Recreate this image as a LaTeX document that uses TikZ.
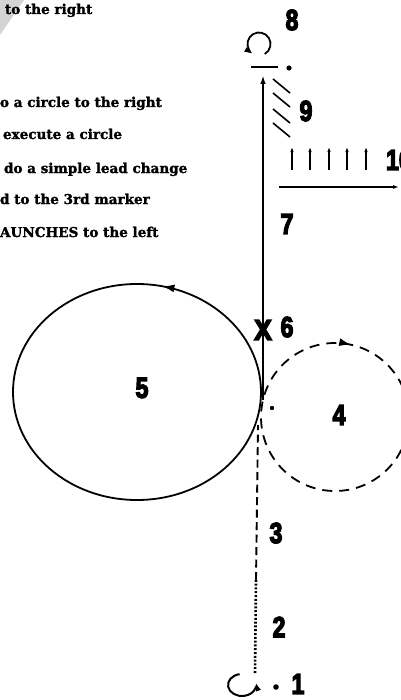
\documentclass[tikz,border=0pt]{standalone}
\usepackage{fontspec}
\setmainfont{DejaVu Serif}[UprightFont={* Bold},FakeBold=1.5]
\newfontfamily\numfont{Liberation Sans}[UprightFont={* Bold},FakeBold=5]
\usetikzlibrary{arrows.meta,decorations.markings}
\begin{document}
\begin{tikzpicture}[x=1bp,y=-1bp,
  every node/.style={inner sep=0pt,outer sep=0pt},
  num/.style={font=\numfont\fontsize{29}{29}\selectfont, xscale=0.8},
  txt/.style={font=\fontsize{13.6}{15}\selectfont, anchor=base west},
  pathline/.style={line width=1.8bp},
  tip/.style={-{Latex[length=9bp,width=5.5bp]}},
  smalltip/.style={-{Latex[length=5bp,width=3.5bp]}},
]
\useasboundingbox (0,0) rectangle (400,700);
% folded corner
\fill[black!17] (0,0) -- (24,0) -- (0,35) -- cycle;
% texts on the left
\node[txt] (t0) at (5,14) {to the right};
\node[txt] (t1) at (0,107) {o a circle to the right};
\node[txt] (t2) at (3,139) {execute a circle};
\node[txt] (t3) at (4,173) {do a simple lead change};
\node[txt] (t4) at (0,204) {d to the 3rd marker};
\node[txt] (t5) at (0,237) {AUNCHES to the left};

% key points
\coordinate (b0) at (242,685);
\coordinate (p1) at (255,673);
\coordinate (p2) at (256,580);
\coordinate (p3) at (258,425);
\coordinate (c4) at (335,417);
\coordinate (c5) at (137,392);
\coordinate (p4) at (263,400);
\coordinate (p5) at (263,75);
\coordinate (c8) at (259,44);
\coordinate (barL) at (251,67);
\coordinate (barR) at (278,67);

% 1: small loop at start
\draw[line width=2bp,tip] ([shift={(-100:14 and 11)}]b0) arc[start angle=-100,end angle=-375,x radius=14,y radius=11];
% 2: dotted
\draw[line width=2.6bp,dash pattern=on 2bp off 1.8bp] (p1) -- (p2);
% 3: dashed
\draw[line width=1.9bp,dash pattern=on 8bp off 4.5bp] (p2) -- (p3);
% 4: dashed circle to the right
\draw[pathline,dash pattern=on 10bp off 7bp,
  postaction={decorate},
  decoration={markings,mark=at position 0.785 with {\arrow{Latex[length=12bp,width=8bp]}}}]
  (c4) circle[radius=74];
% 5: solid circle to the left
\draw[pathline,
  postaction={decorate},
  decoration={markings,mark=at position 0.785 with {\arrowreversed{Latex[length=12bp,width=8bp]}}}]
  (c5) ellipse[x radius=124,y radius=108];
% 7: up the centre line
\draw[pathline,tip] (p4) -- (p5);
% 8: halt bar and small loop
\draw[line width=1.8bp] (barL) -- (barR);
\draw[pathline,tip] ([shift={(60:11.5)}]c8) arc[start angle=60,end angle=-240,radius=11.5];
\fill (289,68) circle[radius=2.6];
% 9: hatches
\foreach \yy in {79,93,109,123} \draw[line width=1.6bp] (273,\yy) -- ++(17,14);
% 10: small arrows and horizontal arrow
\foreach \xx in {292,310,329,347,366} \draw[line width=1.2bp,smalltip] (\xx,170) -- (\xx,147);
\draw[line width=1.4bp,-{Latex[length=6bp,width=4bp]}] (279,187) -- (399,187);
% markers
\fill (272,408) circle[radius=2.2];
\fill (276,687) circle[radius=2.8];

% numbers
\node[num] (n8) at (292,20) {8};
\node[num] (n9) at (306,111) {9};
\node[num,anchor=west] (n10) at (386,160) {10};
\node[num] (n7) at (287,224) {7};
\node[num,xscale=1.15] (nx) at (263,330) {X};
\node[num] (n6) at (287,327) {6};
\node[num] (n4) at (339,415) {4};
\node[num] (n5) at (142,388) {5};
\node[num] (n3) at (276,533) {3};
\node[num] (n2) at (279,627) {2};
\node[num] (n1) at (298,684) {1};
\end{tikzpicture}
\end{document}
